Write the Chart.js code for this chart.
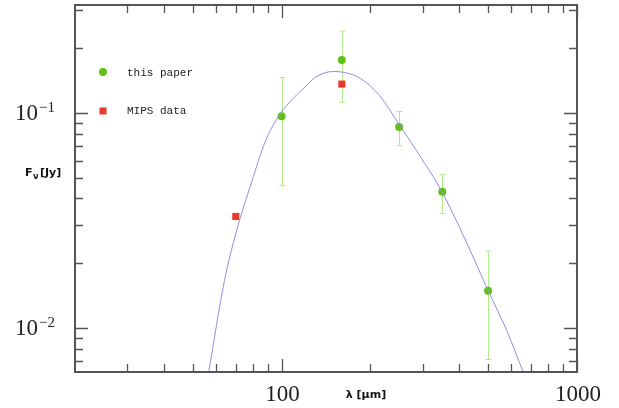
<!DOCTYPE html>
<html>
<head>
<meta charset="utf-8">
<script src="https://cdn.jsdelivr.net/npm/chart.js@4/dist/chart.umd.min.js"></script>
<style>
    html, body { margin: 0; padding: 0; background: #ffffff; }
    #wrap { width: 619px; height: 408px; }
</style>
</head>
<body>
<div id="wrap"><canvas id="sed" width="619" height="408"></canvas></div>
<script>
// SED data
const wavelengths = [100, 160, 250, 350, 500];
const fluxes = [0.0963, 0.176, 0.086, 0.043, 0.0149];
const fluxLow = [0.0459, 0.112, 0.0703, 0.0341, 0.00715];
const fluxHigh = [0.146, 0.240, 0.1015, 0.0516, 0.02275];

const mipsWavelengths = [70, 160];
const mipsFluxes = [0.033, 0.136];

// fitted curve, sampled along the drawn line
const modelWavelengths = [56.7, 64.1, 70.4, 79.3, 88.0, 97.2, 106.4, 118.1, 130.5, 149,
    170, 190, 214.8, 251.2, 293.7, 343.3, 401.2, 500.4, 577.9, 657.7];
const modelFluxes = [0.00625, 0.0166, 0.0282, 0.0479, 0.0733, 0.0955, 0.112, 0.129, 0.1465, 0.1556,
    0.152, 0.141, 0.1203, 0.0875, 0.0632, 0.0448, 0.0292, 0.01493, 0.00976, 0.00625];

// axis ticks
const xMajorTicks = [100, 1000];
const xMajorLabels = ['100', '1000'];
const xMinorTicks = [30, 40, 50, 60, 70, 80, 90, 200, 300, 400, 500, 600, 700, 800, 900];
const yMajorTicks = [0.01, 0.1];
const yMajorExponents = ['\u22122', '\u22121'];
const yMinorTicks = [0.007, 0.008, 0.009, 0.02, 0.03, 0.04, 0.05, 0.06, 0.07, 0.08, 0.09, 0.2, 0.3];

const legendLabels = ['this paper', 'MIPS data'];

const GREEN = '#62c214';
const GREEN_BAR = '#b4e98c';
const RED = '#e8382c';
const CURVE = '#8e8ee0';
const AXIS = '#555555';

// Error bars, frame, inward ticks, labels and legend
const sedDecor = {
    id: 'sedDecor',
    beforeDatasetsDraw(chart) {
        const ctx = chart.ctx;
        const sx = chart.scales.x, sy = chart.scales.y;
        ctx.save();
        ctx.strokeStyle = GREEN_BAR;
        ctx.lineWidth = 1;
        wavelengths.forEach((w, i) => {
            const px = Math.round(sx.getPixelForValue(w)) + 0.5;
            const lo = sy.getPixelForValue(fluxLow[i]);
            const hi = sy.getPixelForValue(fluxHigh[i]);
            ctx.beginPath();
            ctx.moveTo(px, lo); ctx.lineTo(px, hi);
            ctx.moveTo(px - 3, lo); ctx.lineTo(px + 3, lo);
            ctx.moveTo(px - 3, hi); ctx.lineTo(px + 3, hi);
            ctx.stroke();
        });
        ctx.restore();
    },
    afterDraw(chart) {
        const ctx = chart.ctx;
        const a = chart.chartArea;
        const sx = chart.scales.x, sy = chart.scales.y;
        ctx.save();

        // frame
        ctx.strokeStyle = AXIS;
        ctx.lineWidth = 2;
        ctx.strokeRect(a.left, a.top, a.right - a.left, a.bottom - a.top);

        // ticks pointing in
        const tick = (list, len) => {
            list.forEach(v => {
                const px = Math.round(sx.getPixelForValue(v)) + 0.5;
                ctx.beginPath();
                ctx.moveTo(px, a.bottom); ctx.lineTo(px, a.bottom - len);
                ctx.moveTo(px, a.top); ctx.lineTo(px, a.top + len);
                ctx.stroke();
            });
        };
        const ytick = (list, len) => {
            list.forEach(v => {
                const py = Math.round(sy.getPixelForValue(v)) + 0.5;
                ctx.beginPath();
                ctx.moveTo(a.left, py); ctx.lineTo(a.left + len, py);
                ctx.moveTo(a.right, py); ctx.lineTo(a.right - len, py);
                ctx.stroke();
            });
        };
        ctx.lineWidth = 1.3;
        tick(xMinorTicks, 8);
        tick(xMajorTicks, 13);
        ytick(yMinorTicks, 8);
        ytick(yMajorTicks, 13);

        // tick labels
        ctx.fillStyle = '#222222';
        ctx.font = '23px "Liberation Serif"';
        ctx.textBaseline = 'alphabetic';
        ctx.textAlign = 'center';
        xMajorTicks.forEach((v, i) => {
            ctx.fillText(xMajorLabels[i], sx.getPixelForValue(v) + 1, 401);
        });
        yMajorTicks.forEach((v, i) => {
            const py = sy.getPixelForValue(v);
            ctx.textAlign = 'right';
            ctx.font = '23px "Liberation Serif"';
            ctx.fillText('10', 38, py + 7);
            ctx.textAlign = 'left';
            ctx.font = '15px "Liberation Serif"';
            ctx.fillText(yMajorExponents[i], 39, py - 1);
        });

        // axis titles
        ctx.fillStyle = '#111111';
        ctx.font = 'bold 11px "DejaVu Sans"';
        ctx.textAlign = 'center';
        ctx.fillText('\u03bb [\u03bcm]', 366, 398);
        ctx.textAlign = 'left';
        ctx.fillText('F', 25, 176);
        ctx.font = 'bold 8px "DejaVu Sans"';
        ctx.fillText('\u03bd', 33, 179);
        ctx.font = 'bold 11px "DejaVu Sans"';
        ctx.fillText('[Jy]', 40, 176);

        // legend
        ctx.font = '11px "Liberation Mono"';
        ctx.fillStyle = '#222222';
        ctx.textBaseline = 'middle';
        ctx.fillText(legendLabels[0], 127, 73);
        ctx.fillText(legendLabels[1], 127, 111);
        ctx.fillStyle = GREEN;
        ctx.beginPath();
        ctx.arc(103, 72, 4, 0, Math.PI * 2);
        ctx.fill();
        ctx.fillStyle = RED;
        ctx.fillRect(99.5, 107.5, 7, 7);

        ctx.restore();
    }
};

const ctx = document.getElementById('sed');
new Chart(ctx, {
    type: 'scatter',
    data: {
        datasets: [
            {
                label: 'model',
                data: modelWavelengths.map((w, i) => ({ x: w, y: modelFluxes[i] })),
                showLine: true,
                borderColor: CURVE,
                borderWidth: 1,
                pointRadius: 0,
                cubicInterpolationMode: 'monotone'
            },
            {
                label: legendLabels[0],
                data: wavelengths.map((w, i) => ({ x: w, y: fluxes[i] })),
                backgroundColor: GREEN,
                borderColor: GREEN,
                pointRadius: 4,
                borderWidth: 0
            },
            {
                label: legendLabels[1],
                data: mipsWavelengths.map((w, i) => ({ x: w, y: mipsFluxes[i] })),
                backgroundColor: RED,
                borderColor: RED,
                pointStyle: 'rect',
                pointRadius: 5,
                borderWidth: 0
            }
        ]
    },
    options: {
        responsive: false,
        animation: false,
        layout: {
            padding: { left: 75, right: 42, top: 2, bottom: 36 }
        },
        scales: {
            x: { type: 'logarithmic', min: 20, max: 1000, display: false },
            y: { type: 'logarithmic', min: 0.00625, max: 0.317, display: false }
        },
        plugins: {
            legend: { display: false },
            tooltip: { enabled: false }
        }
    },
    plugins: [sedDecor]
});
</script>
</body>
</html>
